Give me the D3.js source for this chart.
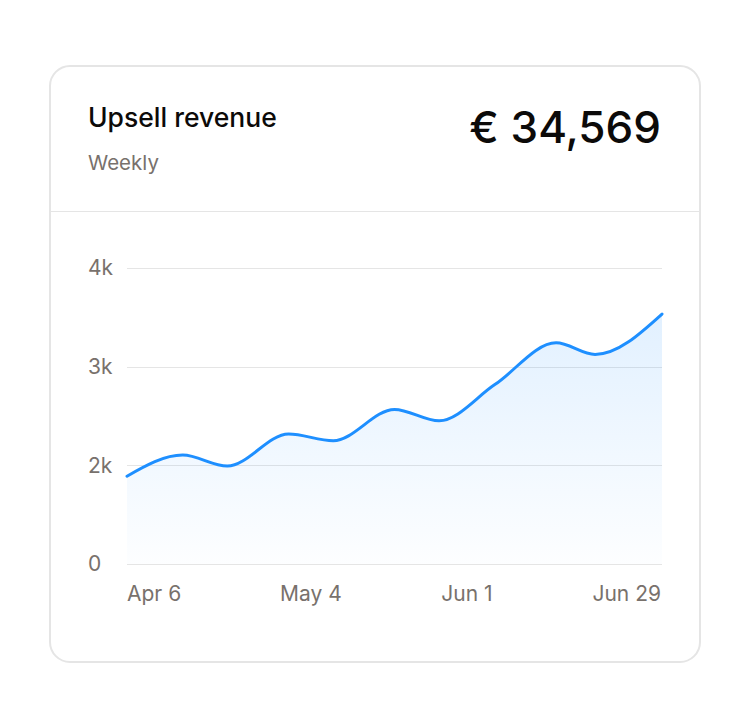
<!DOCTYPE html>
<html>
<head>
<meta charset="utf-8">
<script src="https://cdn.jsdelivr.net/npm/d3@7"></script>
<style>
  html, body { margin: 0; padding: 0; background: #ffffff; }
  svg { display: block; font-family: Inter, "Noto Sans", sans-serif; }
</style>
</head>
<body>
<svg id="chart" width="750" height="728"></svg>
<script>
// ---- data ----
const title = "Upsell revenue";
const subtitle = "Weekly";
const totalLabel = "€ 34,569";
const dates = ["2025-04-01","2025-04-11","2025-04-19","2025-04-30","2025-05-08","2025-05-19",
               "2025-05-27","2025-06-06","2025-06-17","2025-06-24","2025-07-06"];
const values = [1890, 2104, 1993, 2317, 2249, 2567, 2452, 2818, 3242, 3124, 3533];
const yTickValues = [1000, 2000, 3000, 4000];
const yTickLabels = ["0", "2k", "3k", "4k"];
const xTickDates = ["2025-04-06", "2025-05-04", "2025-06-01", "2025-06-29"];
const xTickLabels = ["Apr 6", "May 4", "Jun 1", "Jun 29"];

const parse = d3.timeParse("%Y-%m-%d");
const data = dates.map((d, i) => ({ date: parse(d), value: values[i] }));

const svg = d3.select("#chart");

// card
svg.append("rect")
  .attr("x", 50).attr("y", 66).attr("width", 650).attr("height", 596)
  .attr("rx", 20).attr("ry", 20)
  .attr("fill", "#ffffff").attr("stroke", "#e5e5e5").attr("stroke-width", 2);

// header
svg.append("text").attr("x", 88).attr("y", 127)
  .attr("font-size", 26.5).attr("font-weight", 500).attr("fill", "#0c0a09")
  .text(title);
svg.append("text").attr("x", 88).attr("y", 170)
  .attr("font-size", 20.5).attr("fill", "#78716c")
  .text(subtitle);
svg.append("text").attr("x", 661).attr("y", 143).attr("text-anchor", "end")
  .attr("font-size", 44).attr("font-weight", 500).attr("fill", "#0c0a09")
  .text(totalLabel);

svg.append("line").attr("x1", 51).attr("x2", 699).attr("y1", 211.5).attr("y2", 211.5)
  .attr("stroke", "#e5e5e5").attr("stroke-width", 1);

// scales
const x = d3.scaleTime()
  .domain(d3.extent(data, d => d.date))
  .range([127, 662]);
const y = d3.scaleLinear()
  .domain([1000, 4000])
  .range([564, 268]);

// grid + y labels
const g = svg.append("g");
yTickValues.forEach((v, i) => {
  g.append("line").attr("x1", 127).attr("x2", 662)
    .attr("y1", Math.round(y(v)) + 0.5).attr("y2", Math.round(y(v)) + 0.5)
    .attr("stroke", "#e5e5e5").attr("stroke-width", 1);
  g.append("text").attr("x", 88).attr("y", y(v)).attr("dy", "0.35em")
    .attr("font-size", 21).attr("fill", "#78716c")
    .text(yTickLabels[i]);
});

// x labels
xTickDates.forEach((d, i) => {
  const anchor = i === 0 ? "start" : (i === xTickDates.length - 1 ? "end" : "middle");
  const xp = i === 0 ? 127 : (i === xTickDates.length - 1 ? 661 : x(parse(d)));
  g.append("text").attr("x", xp).attr("y", 601)
    .attr("text-anchor", anchor)
    .attr("font-size", 21).attr("fill", "#78716c")
    .text(xTickLabels[i]);
});

// gradient
const defs = svg.append("defs");
const grad = defs.append("linearGradient").attr("id", "areaGrad")
  .attr("x1", 0).attr("x2", 0).attr("y1", 0).attr("y2", 1);
grad.append("stop").attr("offset", "0%").attr("stop-color", "#1e8fff").attr("stop-opacity", 0.13);
grad.append("stop").attr("offset", "100%").attr("stop-color", "#1e8fff").attr("stop-opacity", 0.01);

const area = d3.area()
  .x(d => x(d.date)).y0(y(1000)).y1(d => y(d.value))
  .curve(d3.curveMonotoneX);
const line = d3.line()
  .x(d => x(d.date)).y(d => y(d.value))
  .curve(d3.curveMonotoneX);

svg.append("path").datum(data).attr("d", area).attr("fill", "url(#areaGrad)");
svg.append("path").datum(data).attr("d", line)
  .attr("fill", "none").attr("stroke", "#1e8fff").attr("stroke-width", 3)
  .attr("stroke-linejoin", "round").attr("stroke-linecap", "round");
</script>
</body>
</html>
